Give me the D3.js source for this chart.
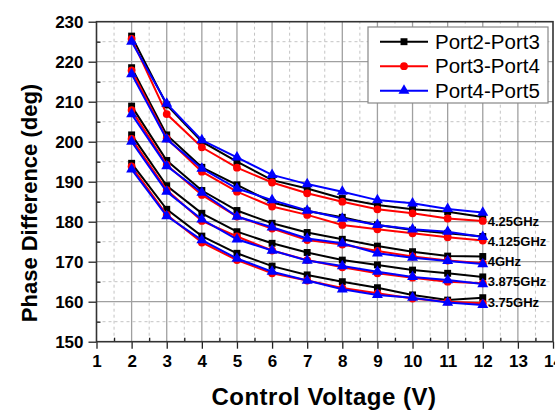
<!DOCTYPE html>
<html>
<head>
<meta charset="utf-8">
<title>Phase Difference vs Control Voltage</title>
<script src="https://d3js.org/d3.v7.min.js"></script>
<style>
	body {
		margin: 0;
		background: #fff;
		font-family: "Liberation Sans", Arial, sans-serif;
	}
	.grid-major {
		stroke: #a0a0a0;
		stroke-width: 1.3px;
	}
	.grid-minor {
		stroke: #c4c4c4;
		stroke-width: 1px;
		stroke-dasharray: 3,3;
	}
	.series {
		fill: none;
		stroke-width: 2px;
	}
</style>
</head>
<body>
<script>
	var width = 555,
			height = 418;

	var voltages = [2, 3, 4, 5, 6, 7, 8, 9, 10, 11, 12];
	var freqs = ["4.25GHz", "4.125GHz", "4GHz", "3.875GHz", "3.75GHz"];
	var seriesNames = ["Port2-Port3", "Port3-Port4", "Port4-Port5"];
	var xTicks = [1, 2, 3, 4, 5, 6, 7, 8, 9, 10, 11, 12, 13, 14];
	var yTicks = [150, 160, 170, 180, 190, 200, 210, 220, 230];

	// one row per frequency, same order as freqs
	var port23 = [
		[226.4, 209.2, 200.0, 195.0, 190.4, 188.3, 185.8, 184.2, 183.1, 182.5, 181.2],
		[218.5, 201.7, 193.6, 189.2, 184.8, 182.7, 181.1, 179.2, 177.9, 177.1, 176.3],
		[208.9, 195.3, 187.8, 182.8, 179.6, 177.3, 175.6, 173.9, 172.5, 171.4, 171.3],
		[201.7, 189.0, 182.1, 177.5, 174.6, 172.3, 170.4, 169.2, 167.9, 167.1, 166.2],
		[194.6, 183.1, 176.4, 172.1, 168.9, 166.7, 165.0, 163.5, 161.7, 160.4, 161.0]
	];
	var port34 = [
		[225.7, 206.9, 198.6, 193.5, 189.8, 187.1, 185.0, 183.1, 182.1, 180.8, 180.2],
		[217.8, 200.8, 192.5, 187.5, 183.8, 181.7, 179.2, 178.1, 177.1, 176.1, 175.3],
		[207.9, 194.2, 186.7, 181.3, 178.3, 175.4, 174.3, 172.7, 171.3, 170.3, 169.6],
		[200.7, 187.9, 180.2, 176.3, 172.8, 170.4, 168.6, 167.1, 166.0, 165.0, 164.6],
		[193.8, 181.7, 174.8, 170.4, 167.1, 165.3, 163.4, 162.1, 160.8, 160.0, 159.6]
	];
	var port45 = [
		[225.0, 209.5, 200.4, 196.1, 191.7, 189.4, 187.5, 185.4, 184.6, 183.2, 182.3],
		[216.9, 200.6, 193.3, 188.3, 185.4, 182.8, 180.8, 179.2, 178.1, 177.5, 176.2],
		[206.9, 193.9, 187.3, 181.3, 178.6, 175.8, 174.6, 172.1, 171.0, 170.2, 169.4],
		[200.0, 187.5, 180.6, 175.6, 172.8, 170.3, 168.9, 167.5, 166.2, 165.4, 164.4],
		[193.1, 181.4, 175.4, 170.8, 167.5, 165.3, 163.1, 161.7, 161.0, 159.8, 159.2]
	];

	var colors = ["#000000", "#ff0000", "#0000ff"];
	var symbols = [d3.symbolSquare, d3.symbolCircle, d3.symbolTriangle];
	var symbolSizes = [48, 48, 52];

	var x = d3.scaleLinear().domain([1, 14]).range([96.5, 553]);
	var y = d3.scaleLinear().domain([150, 230]).range([341.7, 21.7]);

	var svg = d3.select("body").append("svg")
			.attr("width", width)
			.attr("height", height);

	////////////////////////////////////////////////////////////
	// Grid
	var grid = svg.append("g");
	var xMinor = d3.range(1.5, 14, 1);
	var yMinor = d3.range(155, 230, 10);

	grid.selectAll(".xminor").data(xMinor).enter().append("line")
			.attr("class", "grid-minor")
			.attr("x1", function(d) { return x(d); })
			.attr("x2", function(d) { return x(d); })
			.attr("y1", y(150)).attr("y2", y(230));
	grid.selectAll(".yminor").data(yMinor).enter().append("line")
			.attr("class", "grid-minor")
			.attr("y1", function(d) { return y(d); })
			.attr("y2", function(d) { return y(d); })
			.attr("x1", x(1)).attr("x2", x(14));
	grid.selectAll(".xmajor").data(xTicks.slice(1, -1)).enter().append("line")
			.attr("class", "grid-major")
			.attr("x1", function(d) { return x(d); })
			.attr("x2", function(d) { return x(d); })
			.attr("y1", y(150)).attr("y2", y(230));
	grid.selectAll(".ymajor").data(yTicks.slice(1, -1)).enter().append("line")
			.attr("class", "grid-major")
			.attr("y1", function(d) { return y(d); })
			.attr("y2", function(d) { return y(d); })
			.attr("x1", x(1)).attr("x2", x(14));

	////////////////////////////////////////////////////////////
	// Axes
	var xAxis = svg.append("g")
			.attr("transform", "translate(0," + y(150) + ")")
			.call(d3.axisBottom(x).tickValues(xTicks).tickFormat(d3.format("d")).tickSize(7).tickPadding(6));
	var xAxisMinor = svg.append("g")
			.attr("transform", "translate(0," + y(150) + ")")
			.call(d3.axisTop(x).tickValues(xMinor).tickFormat("").tickSize(4));
	var yAxis = svg.append("g")
			.attr("transform", "translate(" + x(1) + ",0)")
			.call(d3.axisLeft(y).tickValues(yTicks).tickSize(8).tickPadding(5));
	var yAxisMinor = svg.append("g")
			.attr("transform", "translate(" + x(1) + ",0)")
			.call(d3.axisRight(y).tickValues(yMinor).tickFormat("").tickSize(4));

	svg.selectAll(".domain").remove();
	svg.selectAll(".tick line").attr("stroke", "#222").attr("stroke-width", 1.3);
	[xAxis, yAxis].forEach(function(a) {
		a.selectAll("text")
				.attr("fill", "#000")
				.style("font-family", "'Liberation Sans', Arial, sans-serif")
				.style("font-size", "17px")
				.style("font-weight", "bold");
	});

	// frame
	svg.append("rect")
			.attr("x", x(1)).attr("y", y(230))
			.attr("width", x(14) - x(1)).attr("height", y(150) - y(230))
			.attr("fill", "none")
			.attr("stroke", "#333")
			.attr("stroke-width", 1.6);

	////////////////////////////////////////////////////////////
	// Series
	var line = d3.line()
			.x(function(d, i) { return x(voltages[i]); })
			.y(function(d) { return y(d); });

	var plot = svg.append("g");
	[port23, port34, port45].forEach(function(rows, s) {
		rows.forEach(function(vals) {
			var g = plot.append("g");
			g.append("path")
					.attr("class", "series")
					.attr("stroke", colors[s])
					.attr("d", line(vals));
			g.selectAll("path.mark").data(vals).enter().append("path")
					.attr("class", "mark")
					.attr("fill", colors[s])
					.attr("transform", function(d, i) { return "translate(" + x(voltages[i]) + "," + y(d) + ")"; })
					.attr("d", d3.symbol().type(symbols[s]).size(symbolSizes[s]));
		});
	});

	// frequency labels beside the last point
	svg.selectAll(".flabel").data(freqs).enter().append("text")
			.attr("class", "flabel")
			.attr("x", x(12) + 5)
			.attr("y", function(d, i) { return y(port23[i][10]) + 9; })
			.attr("font-size", "13px")
			.attr("font-weight", "bold")
			.attr("fill", "#000")
			.text(function(d) { return d; });

	////////////////////////////////////////////////////////////
	// Legend
	var legend = svg.append("g");
	legend.append("rect")
			.attr("x", 368).attr("y", 27)
			.attr("width", 180).attr("height", 76)
			.attr("fill", "#fff")
			.attr("stroke", "#888")
			.attr("stroke-width", 1.2);
	seriesNames.forEach(function(name, i) {
		var cy = 41.7 + i * 24.5;
		legend.append("line")
				.attr("x1", 380).attr("x2", 428)
				.attr("y1", cy).attr("y2", cy)
				.attr("stroke", colors[i])
				.attr("stroke-width", 2);
		legend.append("path")
				.attr("transform", "translate(404," + cy + ")")
				.attr("fill", colors[i])
				.attr("d", d3.symbol().type(symbols[i]).size(symbolSizes[i]));
		legend.append("text")
				.attr("x", 435).attr("y", cy + 7)
				.attr("font-size", "20.5px")
				.attr("fill", "#000")
				.text(name);
	});

	////////////////////////////////////////////////////////////
	// Axis titles
	svg.append("text")
			.attr("x", 324).attr("y", 405)
			.attr("text-anchor", "middle")
			.attr("font-size", "24px")
			.attr("font-weight", "bold")
			.attr("letter-spacing", "0.5px")
			.text("Control Voltage (V)");
	svg.append("text")
			.attr("transform", "translate(37,203) rotate(-90)")
			.attr("text-anchor", "middle")
			.attr("font-size", "22px")
			.attr("font-weight", "bold")
			.text("Phase Difference (deg)");
</script>
</body>
</html>
